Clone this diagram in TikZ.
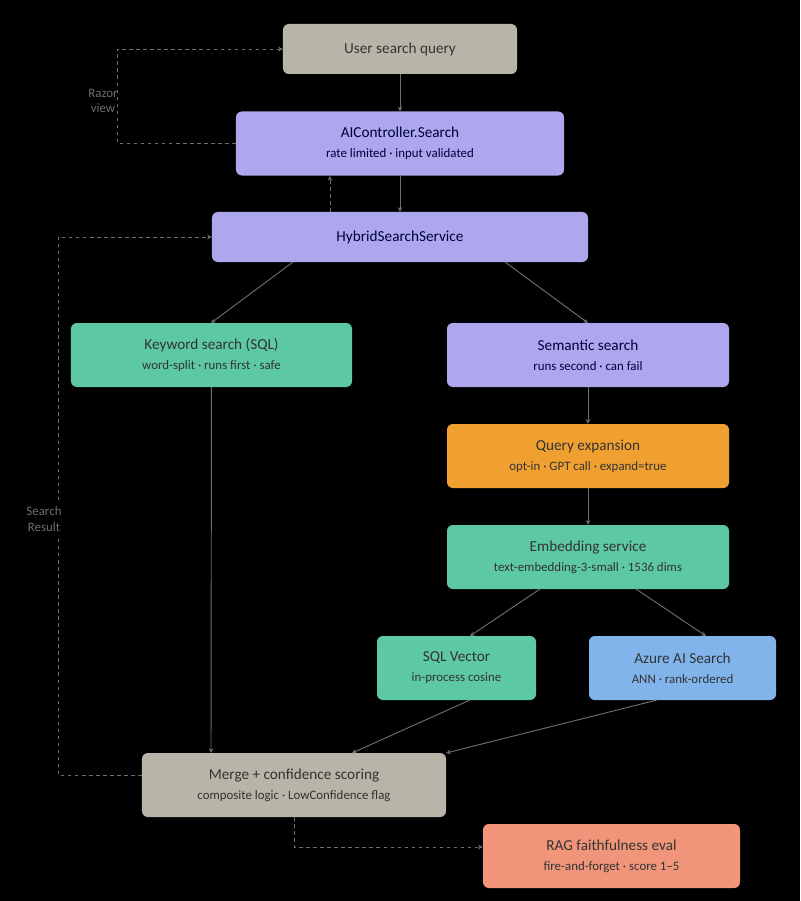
\documentclass[tikz,border=0pt]{standalone}
\usepackage{fontspec}
\setmainfont{Carlito}
\usetikzlibrary{arrows.meta}
\definecolor{cgray}{HTML}{B8B4A8}
\definecolor{cpurple}{HTML}{ADA8EE}
\definecolor{cgreen}{HTML}{5CC9A2}
\definecolor{corange}{HTML}{F0A030}
\definecolor{cblue}{HTML}{80B4EA}
\definecolor{csalmon}{HTML}{F0957A}
\definecolor{cline}{HTML}{6E6E6E}
\newcommand{\subline}{\fontsize{11}{13}\selectfont}
\tikzset{
  box/.style={rounded corners=5pt, draw=none, minimum height=1.92cm, align=center, font=\fontsize{13}{17}\selectfont, text=black!80},
  arr/.style={-{Stealth[length=4pt,width=4pt]}, draw=cline, thick},
  darr/.style={arr, dashed},
  lbl/.style={text=cline, font=\fontsize{11}{13}\selectfont, align=center}
}
\begin{document}
\begin{tikzpicture}[x=0.03cm, y=-0.03cm]
    \fill[black] (0,0) rectangle (800,901);
    %top row
    \node[box, fill=cgray, minimum width=7.02cm, minimum height=1.5cm] (user) at (400,49) {User search query};
    \node[box, fill=cpurple, minimum width=9.84cm, text=black!75!blue] (ctrl) at (400,143.5) {AIController.Search\\{\subline rate limited · input validated}};
    \node[box, fill=cpurple, minimum width=11.28cm, minimum height=1.5cm, text=black!75!blue] (hyb) at (400,237) {HybridSearchService};

    %branches
    \node[box, fill=cgreen, minimum width=8.43cm] (kw) at (211.5,355) {Keyword search (SQL)\\{\subline word-split · runs first · safe}};
    \node[box, fill=cpurple, minimum width=8.46cm, text=black!75!blue] (sem) at (588,355) {Semantic search\\{\subline runs second · can fail}};
    \node[box, fill=corange, minimum width=8.46cm] (qe) at (588,456) {Query expansion\\{\subline opt-in · GPT call · expand=true}};
    \node[box, fill=cgreen, minimum width=8.46cm] (emb) at (588,557) {Embedding service\\{\subline text-embedding-3-small · 1536 dims}};
    \node[box, fill=cgreen, minimum width=4.77cm] (sqlv) at (456.5,668) {SQL Vector\\{\subline in-process cosine}};
    \node[box, fill=cblue, minimum width=5.61cm] (az) at (682.5,668) {Azure AI Search\\{\subline ANN · rank-ordered}};

    %merge and eval
    \node[box, fill=cgray, minimum width=9.12cm] (mrg) at (294,785) {Merge + confidence scoring\\{\subline composite logic · LowConfidence flag}};
    \node[box, fill=csalmon, minimum width=7.71cm] (rag) at (611.5,856) {RAG faithfulness eval\\{\subline fire-and-forget · score 1–5}};

    \coordinate (r1) at (117,143);
    \coordinate (r2) at (117,49);
    \coordinate (s1) at (58,775);
    \coordinate (s2) at (58,237);
    \coordinate (e1) at (294,847);

    \draw[arr] (user) -- (ctrl);
    \draw[arr] (ctrl) -- (hyb);
    \draw[darr] (330,212) -- (330,176);
    \draw[arr] (293,262) -- (211,323);
    \draw[arr] (505,262) -- (588,323);
    \draw[arr] (sem) -- (qe);
    \draw[arr] (qe) -- (emb);
    \draw[arr] (540,589) -- (470,636);
    \draw[arr] (636,589) -- (706,636);
    \draw[arr] (kw) -- (211,753);
    \draw[arr] (470,700) -- (352,753);
    \draw[arr] (657,700) -- (446,753);
    \draw[darr] (ctrl.west |- r1) -- (r1) -- (r2) -- (user.west);
    \draw[darr] (mrg.west |- s1) -- (s1) -- (s2) -- (hyb.west);
    \draw[darr] (294,817) -- (e1) -- (rag.west |- e1);

    \node[lbl] (razor) at (103,101) {Razor\\view};
    \node[lbl, fill=black] (sres) at (44,519) {Search\\Result};
\end{tikzpicture}
\end{document}
